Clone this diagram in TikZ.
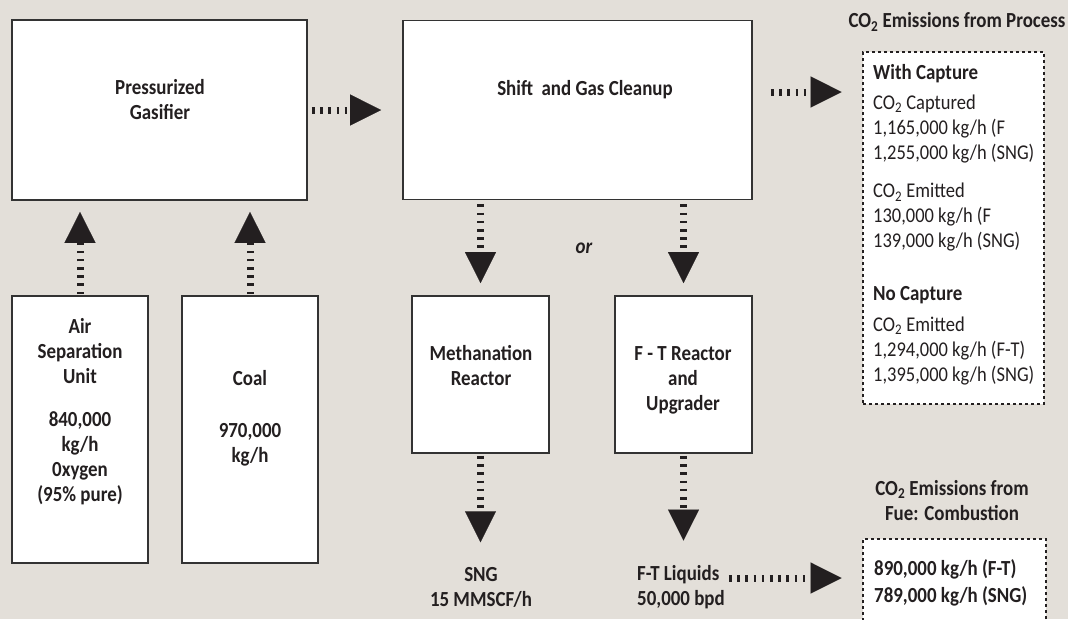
\documentclass[tikz,border=0pt]{standalone}
\usepackage{fontspec}
\setmainfont{Carlito}[FakeStretch=0.88]
\usetikzlibrary{arrows.meta,calc}
\definecolor{bg}{RGB}{227,223,217}
\definecolor{ink}{RGB}{35,31,32}
\definecolor{edge}{RGB}{51,51,51}
\begin{document}
\begin{tikzpicture}[x=1pt,y=-1pt,
 box/.style={draw=edge,line width=1.8pt,fill=white,inner sep=0pt},
 dotbox/.style={draw=ink,line width=2.8pt,dash pattern=on 2.7pt off 3.3pt,fill=white,inner sep=0pt},
 flow/.style={draw=ink,line width=7pt,dash pattern=on 2.6pt off 5.6pt,-{Triangle[length=31pt,width=31pt,line width=0.1pt]}},
 bt/.style={font=\fontsize{21.5}{25}\selectfont\bfseries,text=ink,align=center,inner sep=0pt},
 rt/.style={font=\fontsize{21}{25}\selectfont,text=ink,align=left,inner sep=0pt,anchor=west},
]
\fill[bg] (0,0) rectangle (1068,619);
\useasboundingbox (0,0) rectangle (1068,619);

% boxes
\node[box,minimum width=295pt,minimum height=180pt] (gas) at (159.5,110) {};
\node[box,minimum width=349pt,minimum height=179pt] (shift) at (577.5,110) {};
\node[box,minimum width=136pt,minimum height=267pt] (asu) at (80,429.5) {};
\node[box,minimum width=136pt,minimum height=267pt] (coal) at (250,429.5) {};
\node[box,minimum width=137pt,minimum height=157pt] (meth) at (480.5,374.5) {};
\node[box,minimum width=137pt,minimum height=157pt] (ft) at (683.5,374.5) {};
\node[dotbox,minimum width=181pt,minimum height=352pt] (proc) at (953.5,228) {};
\node[dotbox,minimum width=183pt,minimum height=101pt] (com) at (954.5,589.5) {};

% texts
\node[bt] (gasT) at (160,99.5) {Pressurized\\Gasifier};
\node[bt] (shiftT) at (585,90) {Shift~ and Gas Cleanup};
\node[bt] (asuT) at (80,351) {Air\\Separation\\Unit};
\node[bt] (asuN) at (80,458.5) {840,000\\kg/h\\0xygen\\(95\% pure)};
\node[bt] (coalT) at (250,378) {Coal};
\node[bt] (coalN) at (250,445) {970,000\\kg/h};
\node[bt] (methT) at (481,366) {Methanation\\Reactor};
\node[bt] (ftT) at (683,380) {F - T Reactor\\and\\Upgrader};
\node[bt,font=\fontsize{21.5}{25}\selectfont\bfseries\itshape] (orT) at (584,248) {or};
\node[bt] (sng) at (481,587.5) {SNG\\15 MMSCF/h};
\node[bt,align=left,anchor=west] (ftl) at (637,587.5) {F-T Liquids\\50,000 bpd};

\node[bt] (procT) at (957,22) {CO\textsubscript{2} Emissions from Process};
\node[rt,font=\fontsize{21.5}{25}\selectfont\bfseries] (wc) at (873,74) {With Capture};
\node[rt] (wc1) at (873,129) {CO\textsubscript{2} Captured\\1,165,000 kg/h (F\\1,255,000 kg/h (SNG)};
\node[rt] (wc2) at (873,217.5) {CO\textsubscript{2} Emitted\\130,000 kg/h (F\\139,000 kg/h (SNG)};
\node[rt,font=\fontsize{21.5}{25}\selectfont\bfseries] (nc) at (873,295) {No Capture};
\node[rt] (nc1) at (873,351) {CO\textsubscript{2} Emitted\\1,294,000 kg/h (F-T)\\1,395,000 kg/h (SNG)};

\node[bt] (comT) at (952,500.5) {CO\textsubscript{2} Emissions from\\Fue: Combustion};
\node[bt,align=left,anchor=west,font=\fontsize{21.5}{27}\selectfont\bfseries] (comN) at (874,582.5) {890,000 kg/h (F-T)\\789,000 kg/h (SNG)};

% connectors
\coordinate (pa) at (0,92);
\coordinate (pb) at (0,578);
\draw[flow,shorten <=4pt,shorten >=21pt] (gas.east) -- (shift.west);
\draw[flow,shorten <=18pt,shorten >=20pt] (shift.east |- pa) -- (proc.west |- pa);
\draw[flow,shorten <=1pt,shorten >=11pt] (asu.north) -- (asu.north |- gas.south);
\draw[flow,shorten <=1pt,shorten >=11pt] (coal.north) -- (coal.north |- gas.south);
\draw[flow,shorten <=4pt,shorten >=12pt] (meth.north |- shift.south) -- (meth.north);
\draw[flow,shorten <=4pt,shorten >=12pt] (ft.north |- shift.south) -- (ft.north);
\draw[flow,shorten <=2pt,shorten >=25pt] (meth.south) -- (meth.south |- sng.north);
\draw[flow,shorten <=2pt,shorten >=25pt] (ft.south) -- (ft.south |- ftl.north);
\draw[flow,shorten <=4pt,shorten >=20pt] (ftl.east |- pb) -- (com.west |- pb);
\end{tikzpicture}
\end{document}
